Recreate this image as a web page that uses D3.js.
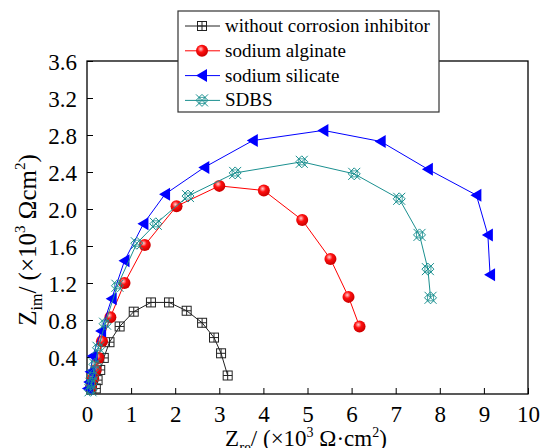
<!DOCTYPE html>
<html>
<head>
<meta charset="utf-8">
<script src="https://cdn.jsdelivr.net/npm/d3@7"></script>
<style>
  body { margin: 0; background: #fff; }
  text { font-family: "Liberation Serif", "Times New Roman", serif; }
</style>
</head>
<body>
<svg width="540" height="448"></svg>
<script>
// Nyquist data, Zre and Zim in 10^3 ohm cm2
var blankRe = [0.20, 0.24, 0.30, 0.38, 0.51, 0.74, 1.06, 1.45, 1.86, 2.26, 2.61, 2.88, 3.04, 3.19];
var blankIm = [0.06, 0.15, 0.26, 0.39, 0.56, 0.73, 0.89, 0.99, 0.99, 0.90, 0.77, 0.61, 0.44, 0.20];

var alginateRe = [0.09, 0.14, 0.20, 0.26, 0.34, 0.53, 0.85, 1.31, 2.03, 3.00, 4.01, 4.88, 5.52, 5.93, 6.18];
var alginateIm = [0.07, 0.17, 0.26, 0.39, 0.57, 0.83, 1.20, 1.61, 2.03, 2.25, 2.20, 1.88, 1.46, 1.05, 0.73];

var silicateRe = [0.02, 0.05, 0.08, 0.13, 0.32, 0.56, 0.85, 1.28, 1.77, 2.66, 3.76, 5.36, 6.66, 7.73, 8.83, 9.09, 9.14];
var silicateIm = [0.06, 0.13, 0.24, 0.41, 0.68, 1.03, 1.44, 1.84, 2.16, 2.45, 2.74, 2.85, 2.73, 2.43, 2.15, 1.72, 1.29];

var sdbsRe = [0.08, 0.10, 0.13, 0.18, 0.26, 0.41, 0.69, 1.13, 1.56, 2.29, 3.36, 4.87, 6.06, 7.08, 7.54, 7.73, 7.79];
var sdbsIm = [0.04, 0.11, 0.20, 0.32, 0.50, 0.76, 1.17, 1.63, 1.84, 2.14, 2.39, 2.51, 2.38, 2.11, 1.72, 1.35, 1.04];

var seriesNames = ["without corrosion inhibitor", "sodium alginate", "sodium silicate", "SDBS"];
var xTicks = [0, 1, 2, 3, 4, 5, 6, 7, 8, 9, 10];
var yTicks = [0.4, 0.8, 1.2, 1.6, 2.0, 2.4, 2.8, 3.2, 3.6];

var svg = d3.select("svg");
var pLeft = 87, pTop = 61, w = 441, h = 333;

var x = d3.scaleLinear().domain([0, 10]).range([pLeft, pLeft + w]);
var y = d3.scaleLinear().domain([0, 3.6]).range([pTop + h, pTop]);

var defs = svg.append("defs");
var grad = defs.append("radialGradient").attr("id", "ball")
    .attr("cx", "40%").attr("cy", "35%").attr("r", "60%");
grad.append("stop").attr("offset", "0%").attr("stop-color", "#ffd0d0");
grad.append("stop").attr("offset", "45%").attr("stop-color", "#ff1010");
grad.append("stop").attr("offset", "100%").attr("stop-color", "#d00000");

// axes, ticks inward
var xAxis = d3.axisBottom(x).tickValues(xTicks).tickSize(-6).tickPadding(12)
    .tickFormat(d3.format("d"));
var yAxis = d3.axisLeft(y).tickValues(yTicks).tickSize(-6).tickPadding(10)
    .tickFormat(d3.format(".1f"));

var gx = svg.append("g").attr("transform", "translate(0," + (pTop + h) + ")").call(xAxis);
var gy = svg.append("g").attr("transform", "translate(" + pLeft + ",0)").call(yAxis);
[gx, gy].forEach(function(g) {
    g.attr("font-family", null);
    g.select(".domain").remove();
    g.selectAll("line").attr("stroke", "#000").attr("stroke-width", 1);
    g.selectAll("text").attr("font-size", 23).attr("fill", "#000");
});
gy.selectAll("text").attr("dy", "0.35em");

svg.append("rect").attr("x", pLeft).attr("y", pTop).attr("width", w).attr("height", h)
    .attr("fill", "none").attr("stroke", "#000").attr("stroke-width", 1.3);

// markers
function drawMarker(g, kind, color) {
    if (kind == 0) {
        g.append("rect").attr("x", -4.5).attr("y", -4.5).attr("width", 9).attr("height", 9)
            .attr("fill", "none").attr("stroke", color).attr("stroke-width", 1);
        g.append("path").attr("d", "M0,-4.5V4.5M-4.5,0H4.5").attr("stroke", color).attr("stroke-width", 1);
    } else if (kind == 1) {
        g.append("circle").attr("r", 6).attr("fill", "url(#ball)");
    } else if (kind == 2) {
        g.append("path").attr("d", "M-6,0L5,-6.5L5,6.5Z").attr("fill", color);
    } else {
        g.append("path").attr("d", "M-6,-6L6,6M-6,6L6,-6M0,-6L6,0L0,6L-6,0Z")
            .attr("fill", "none").attr("stroke", color).attr("stroke-width", 1);
        g.append("path").attr("d", "M-3,-3L3,-3L3,3L-3,3Z")
            .attr("fill", "none").attr("stroke", color).attr("stroke-width", 0.8);
    }
}

var colors = ["#222", "#ff0000", "#0000ff", "#1b9090"];
var allRe = [blankRe, alginateRe, silicateRe, sdbsRe];
var allIm = [blankIm, alginateIm, silicateIm, sdbsIm];

var line = d3.line().x(function(d) { return x(d[0]); }).y(function(d) { return y(d[1]); });

allRe.forEach(function(re, k) {
    var pts = re.map(function(v, i) { return [v, allIm[k][i]]; });
    var g = svg.append("g");
    g.append("path").datum(pts).attr("d", line).attr("fill", "none")
        .attr("stroke", colors[k]).attr("stroke-width", 1);
    g.selectAll("g.m").data(pts).enter().append("g").attr("class", "m")
        .attr("transform", function(d) { return "translate(" + x(d[0]) + "," + y(d[1]) + ")"; })
        .each(function() { drawMarker(d3.select(this), k, colors[k]); });
});

// legend
var leg = svg.append("g");
leg.append("rect").attr("x", 178).attr("y", 11).attr("width", 261).attr("height", 101)
    .attr("fill", "#fff").attr("stroke", "#333").attr("stroke-width", 1.2);
seriesNames.forEach(function(name, k) {
    var cy = 26 + k * 24.8;
    leg.append("line").attr("x1", 185).attr("x2", 220).attr("y1", cy).attr("y2", cy)
        .attr("stroke", colors[k]).attr("stroke-width", 1);
    drawMarker(leg.append("g").attr("transform", "translate(202," + cy + ")"), k, colors[k]);
    leg.append("text").attr("x", 225).attr("y", cy + 6).attr("font-size", 19).text(name);
});

// axis titles
var xt = svg.append("text").attr("x", 306).attr("y", 446).attr("text-anchor", "middle").attr("font-size", 23);
xt.append("tspan").text("Z");
xt.append("tspan").attr("font-size", 15).attr("dy", 6).text("re");
xt.append("tspan").attr("dy", -6).text("/ (×10");
xt.append("tspan").attr("font-size", 14).attr("dy", -9).text("3");
xt.append("tspan").attr("dy", 9).text(" Ω·cm");
xt.append("tspan").attr("font-size", 14).attr("dy", -9).text("2");
xt.append("tspan").attr("dy", 9).text(")");

var yt = svg.append("text").attr("transform", "translate(36,240) rotate(-90)")
    .attr("text-anchor", "middle").attr("font-size", 25);
yt.append("tspan").text("Z");
yt.append("tspan").attr("font-size", 16).attr("dy", 6).text("im");
yt.append("tspan").attr("dy", -6).text("/ (×10");
yt.append("tspan").attr("font-size", 15).attr("dy", -11).text("3");
yt.append("tspan").attr("dy", 11).text(" Ωcm");
yt.append("tspan").attr("font-size", 15).attr("dy", -11).text("2");
yt.append("tspan").attr("dy", 11).text(")");
</script>
</body>
</html>
